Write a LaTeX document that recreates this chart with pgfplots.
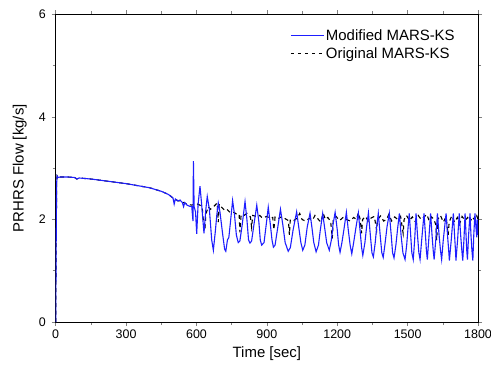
\documentclass[border=0pt]{standalone}
\usepackage{fontspec}
\setmainfont{Liberation Sans}
\usepackage{pgfplots}
\pgfplotsset{compat=1.18}
\definecolor{modblue}{RGB}{30,30,255}
\begin{document}
\begin{tikzpicture}
\begin{axis}[
  scale only axis, width=422.3bp, height=307.5bp,
  xmin=0, xmax=1800, ymin=0, ymax=6,
  xtick={0,300,...,1800}, ytick={0,2,4,6},
  minor x tick num=1, minor y tick num=1,
  tick align=outside, major tick length=4bp, minor tick length=3bp,
  tick style={line width=0.6bp},
  axis line style={line width=0.8bp},
  ticklabel style={font=\fontsize{12.5}{14}\selectfont},
  yticklabel style={xshift=-2.5bp},
  /pgf/number format/assume math mode=true,
  /pgf/number format/1000 sep={},
  xlabel={Time [sec]}, ylabel={PRHRS Flow [kg/s]},
  label style={font=\fontsize{15}{17}\selectfont},
  xlabel style={at={(axis description cs:0.5,-0.117)}, anchor=base},
  ylabel style={at={(axis description cs:-0.0758,0.5)}, anchor=base},
  legend style={draw=none, fill=none, at={(axis description cs:0.555,0.957)}, anchor=north west,
    inner sep=0pt, font=\fontsize{15}{17}\selectfont, row sep=3bp, nodes={inner sep=1.5bp}},
  legend cell align=left,
  legend image code/.code={\draw[#1] plot coordinates {(0bp,0bp) (33bp,0bp)};},
]
\addlegendimage{color=modblue, line width=1.2bp}
\addlegendentry{Modified MARS-KS}
\addlegendimage{color=black, line width=1.1bp, dash pattern=on 3.5bp off 3.5bp}
\addlegendentry{Original MARS-KS}
\addplot[forget plot, color=black, line width=1.1bp, dash pattern=on 4bp off 3.5bp] coordinates {
(0,0) (2,1.5) (4,2.7) (6,2.85) (10,2.82) (20,2.83) (50,2.83) (80,2.82) (90,2.79) (100,2.81)
(150,2.79) (200,2.76) (250,2.73) (300,2.70) (350,2.66) (400,2.62) (450,2.55) (480,2.49)
(500,2.42) (520,2.37) (540,2.34) (560,2.30) (580,2.28) (600,2.31) (615,2.28) (625,2.2)
(632,1.85) (636,1.80) (640,2.1) (650,2.25) (660,2.2) (675,2.26) (688,2.32) (693,1.95) (697,2.3)
(705,2.25) (720,2.18) (730,2.2) (745,2.13) (760,2.14) (775,2.09) (782,2.1) (785,1.75) (790,2.08)
(800,2.07) (815,2.12) (830,2.05) (835,1.85) (840,2.08) (860,2.05) (870,2.08) (880,2.03) (900,2.06)
(915,2.02) (925,2.04) (930,1.80) (935,2.05) (950,2.02) (965,2.06) (980,2.01) (992,1.98) (996,1.70)
(1000,2.0) (1015,1.98) (1030,2.03) (1040,2.12) (1050,2.0) (1065,1.97) (1080,2.02) (1095,1.99)
(1105,2.08) (1120,2.0) (1130,1.95) (1140,2.12) (1150,2.0) (1160,2.04) (1172,1.96) (1179,1.63)
(1183,2.0) (1195,2.06) (1210,1.98) (1225,2.04) (1240,2.0) (1255,1.97) (1270,2.04) (1282,2.0)
(1290,2.13) (1298,2.0) (1304,1.73) (1308,2.0) (1320,2.06) (1332,1.97) (1345,2.03) (1358,2.06)
(1368,1.79) (1372,2.0) (1385,2.07) (1398,1.97) (1410,2.0) (1420,2.1) (1432,1.97) (1445,2.05)
(1458,2.0) (1470,2.06) (1481,1.73) (1485,2.0) (1495,2.08) (1508,1.98) (1520,2.05) (1532,1.96)
(1545,2.08) (1558,2.0) (1570,2.05) (1582,2.1) (1592,1.97) (1602,2.05) (1612,2.0) (1620,1.9)
(1624,1.60) (1628,2.0) (1640,2.08) (1652,1.95) (1664,2.05) (1673,1.70) (1677,1.95) (1688,2.07)
(1700,1.95) (1712,2.04) (1722,1.92) (1732,2.06) (1745,1.98) (1756,2.04) (1766,1.95) (1776,2.05)
(1788,1.98) (1795,2.07) (1800,2.0)
};
\addplot[forget plot, color=modblue, line width=1.1bp] coordinates {
(0,0) (2,1.5) (4,2.7) (6,2.85) (10,2.82) (20,2.83) (50,2.83) (80,2.82) (90,2.79) (100,2.81)
(150,2.79) (200,2.76) (250,2.73) (300,2.70) (350,2.66) (400,2.62) (450,2.55) (480,2.49)
(500,2.42) (505,2.30) (510,2.40) (520,2.36) (530,2.38) (540,2.33) (545,2.25) (550,2.33)
(560,2.28) (570,2.26) (580,2.25) (585,1.97) (587,3.14) (590,2.25) (596,2.15) (601,1.72)
(607,2.3) (615,2.65) (622,2.3) (632,1.73) (640,2.2) (646,2.45) (655,2.2) (665,1.6) (672,1.40)
(680,1.75) (687,2.1) (693,2.32) (700,2.15) (712,1.7) (720,1.42) (725,1.38) (732,1.6) (738,1.65)
(746,2.0) (754,2.37) (762,2.1) (770,1.7) (778,1.55) (785,1.58) (795,1.9) (807,2.35) (815,2.0)
(822,1.6) (828,1.54) (835,1.58) (845,1.9) (857,2.28) (866,1.95) (872,1.6) (878,1.50) (888,1.55)
(896,1.85) (906,2.24) (915,1.9) (922,1.6) (928,1.46) (935,1.5) (945,1.8) (958,2.20) (968,1.9)
(978,1.55) (991,1.38) (1000,1.45) (1012,1.8) (1027,2.15) (1036,1.85) (1045,1.55) (1053,1.40)
(1062,1.5) (1072,1.85) (1084,2.12) (1092,1.85) (1100,1.55) (1110,1.37) (1120,1.5) (1128,1.8)
(1138,2.12) (1146,1.85) (1155,1.55) (1166,1.40) (1175,1.6) (1182,1.9) (1191,2.14) (1200,1.8)
(1206,1.5) (1212,1.36) (1220,1.55) (1230,1.85) (1239,2.14) (1247,1.8) (1255,1.5) (1262,1.33)
(1270,1.55) (1280,1.85) (1290,2.13) (1298,1.75) (1304,1.45) (1309,1.30) (1318,1.55) (1325,1.85)
(1333,2.13) (1341,1.7) (1348,1.35) (1354,1.27) (1362,1.55) (1368,1.85) (1375,2.12) (1383,1.7)
(1390,1.35) (1396,1.26) (1403,1.5) (1412,1.85) (1422,2.12) (1430,1.7) (1436,1.35) (1442,1.25)
(1450,1.5) (1458,1.85) (1465,2.12) (1472,1.7) (1480,1.35) (1489,1.22) (1496,1.5) (1502,1.85)
(1507,2.12) (1513,1.7) (1518,1.35) (1524,1.22) (1530,1.6) (1536,2.12) (1542,1.7) (1548,1.35)
(1553,1.22) (1560,1.6) (1570,2.12) (1576,1.7) (1580,1.4) (1584,1.22) (1590,1.6) (1598,2.12)
(1604,1.7) (1609,1.4) (1613,1.22) (1620,1.6) (1627,2.12) (1634,1.7) (1640,1.4) (1645,1.22)
(1652,1.6) (1664,2.12) (1670,1.7) (1675,1.4) (1678,1.20) (1686,1.6) (1695,2.12) (1700,1.7)
(1704,1.4) (1706,1.20) (1713,1.6) (1720,2.12) (1726,1.7) (1731,1.4) (1735,1.20) (1740,1.6)
(1745,2.12) (1749,1.7) (1752,1.4) (1755,1.22) (1760,1.7) (1766,2.12) (1770,1.7) (1774,1.4)
(1778,1.20) (1782,1.7) (1787,2.12) (1792,1.8) (1795,1.65) (1797,2.0) (1799,1.7) (1800,1.85)
};
\end{axis}
\pgfresetboundingbox
\path (-55.7bp,-43bp) rectangle (435.3bp,322bp);
\end{tikzpicture}
\end{document}
